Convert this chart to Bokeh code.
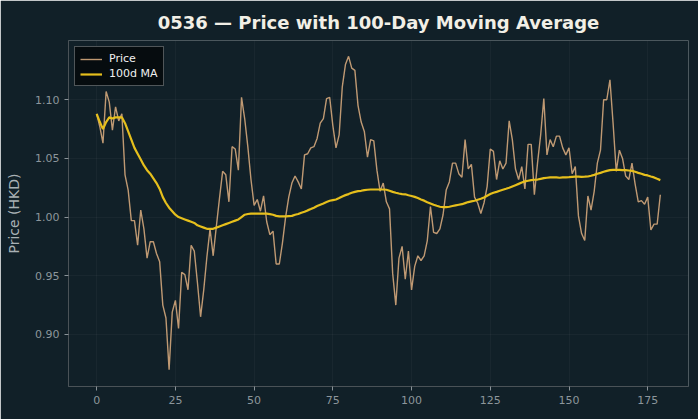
from bokeh.plotting import figure
from bokeh.models import FixedTicker, NumeralTickFormatter, Range1d, Legend, LegendItem
from bokeh.embed import file_html
from bokeh.resources import INLINE

day = list(range(180))
price = [
    1.088, 1.077, 1.063, 1.107, 1.098, 1.074, 1.094, 1.082, 1.088, 1.036,
    1.023, 0.997, 0.997, 0.976, 1.006, 0.990, 0.965, 0.979, 0.979, 0.969,
    0.962, 0.925, 0.914, 0.870, 0.919, 0.929, 0.905, 0.953, 0.951, 0.938,
    0.976, 0.971, 0.944, 0.915, 0.938, 0.966, 0.990, 0.967, 0.992, 1.016,
    1.039, 1.036, 1.013, 1.060, 1.058, 1.040, 1.102, 1.084, 1.060, 1.032,
    1.010, 1.015, 1.005, 1.018, 0.996, 0.985, 0.988, 0.960, 0.960, 0.978,
    1.000, 1.017, 1.029, 1.035, 1.030, 1.024, 1.053, 1.054, 1.059, 1.060,
    1.067, 1.080, 1.084, 1.101, 1.102, 1.078, 1.059, 1.070, 1.111, 1.130,
    1.137, 1.127, 1.125, 1.095, 1.081, 1.073, 1.051, 1.066, 1.065, 1.040,
    1.022, 1.029, 1.013, 1.007, 0.952, 0.925, 0.965, 0.975, 0.947, 0.971,
    0.938, 0.958, 0.967, 0.963, 0.967, 0.980, 1.009, 0.987, 0.986, 0.990,
    1.002, 1.023, 1.030, 1.046, 1.046, 1.037, 1.034, 1.066, 1.041, 1.045,
    1.017, 1.012, 1.003, 1.012, 1.026, 1.058, 1.056, 1.032, 1.048, 1.041,
    1.046, 1.082, 1.066, 1.041, 1.032, 1.043, 1.024, 1.062, 1.062, 1.019,
    1.046, 1.070, 1.101, 1.053, 1.066, 1.060, 1.069, 1.069, 1.059, 1.053,
    1.059, 1.037, 1.043, 1.001, 0.986, 0.980, 1.018, 1.006, 1.022, 1.046,
    1.057, 1.100, 1.100, 1.117, 1.080, 1.039, 1.057, 1.050, 1.035, 1.032,
    1.046, 1.028, 1.013, 1.014, 1.011, 1.017, 0.989, 0.994, 0.994, 1.019,
]
ma100 = [
    1.088, 1.081, 1.075, 1.081, 1.085, 1.084, 1.085, 1.085, 1.085, 1.080,
    1.073, 1.066, 1.059, 1.054, 1.049, 1.044, 1.040, 1.037, 1.033, 1.029,
    1.024, 1.017, 1.012, 1.008, 1.005, 1.002, 1.000, 0.999, 0.998, 0.997,
    0.996, 0.995, 0.993, 0.992, 0.991, 0.990, 0.990, 0.990, 0.991, 0.992,
    0.993, 0.994, 0.995, 0.996, 0.997, 0.998, 1.000, 1.002, 1.0026, 1.003,
    1.003, 1.003, 1.003, 1.003, 1.003, 1.0025, 1.002, 1.001, 1.0006, 1.0006,
    1.0006, 1.0008, 1.001, 1.002, 1.0026, 1.0037, 1.0045, 1.0057, 1.0068, 1.008,
    1.0094, 1.0105, 1.0116, 1.0128, 1.0139, 1.0145, 1.015, 1.0162, 1.0176, 1.0187,
    1.0196, 1.0207, 1.0215, 1.0221, 1.0224, 1.023, 1.0233, 1.0235, 1.0235, 1.0235,
    1.0235, 1.0235, 1.0233, 1.0224, 1.0215, 1.0207, 1.0201, 1.0196, 1.0194, 1.0186,
    1.0180, 1.0172, 1.0162, 1.0150, 1.0140, 1.0127, 1.0116, 1.0105, 1.0096, 1.0088,
    1.0085, 1.0085, 1.0088, 1.0094, 1.0100, 1.0105, 1.0110, 1.0119, 1.0128, 1.0134,
    1.0139, 1.0148, 1.0156, 1.0167, 1.0182, 1.0196, 1.0207, 1.0215, 1.0224, 1.0233,
    1.0241, 1.0250, 1.0261, 1.0272, 1.0283, 1.0295, 1.0304, 1.0310, 1.0315, 1.0318,
    1.0320, 1.0326, 1.0332, 1.0335, 1.0338, 1.0338, 1.0338, 1.0335, 1.0338, 1.0338,
    1.0340, 1.0343, 1.0345, 1.0344, 1.0343, 1.0344, 1.0346, 1.0352, 1.0360, 1.0369,
    1.0377, 1.0386, 1.0394, 1.0400, 1.0403, 1.0403, 1.0403, 1.0400, 1.0400, 1.0397,
    1.0394, 1.0386, 1.0377, 1.0369, 1.0360, 1.0355, 1.0346, 1.0338, 1.0326, 1.0315,
]
x_ticks = [0, 25, 50, 75, 100, 125, 150, 175]
y_ticks = [0.90, 0.95, 1.00, 1.05, 1.10]
title_text = "0536 \u2014 Price with 100-Day Moving Average"

BG = "#112028"
FONT = "DejaVu Sans"

p = figure(width=698, height=419, output_backend="svg", toolbar_location=None,
           x_range=Range1d(-8.95, 187.95), y_range=Range1d(0.8556, 1.1505),
           background_fill_color=BG, border_fill_color=BG, outline_line_color=None,
           min_border_left=68, min_border_right=10, min_border_top=40, min_border_bottom=33)

p.title.text = title_text
p.title.align = "center"
p.title.text_font = FONT
p.title.text_font_size = "18px"
p.title.text_font_style = "bold"
p.title.text_color = "#f2efe6"
p.title.offset = 0
p.title.standoff = 16

r_price = p.line(day, price, line_color="#c9a077", line_width=1.4, line_alpha=0.95)
r_ma = p.line(day, ma100, line_color="#e6bf1c", line_width=2.2)

for ax in (p.xaxis[0], p.yaxis[0]):
    ax.axis_line_color = "#4a5257"
    ax.major_tick_line_color = "#8a9398"
    ax.minor_tick_line_color = None
    ax.major_tick_in = 0
    ax.major_tick_out = 4
    ax.major_label_text_color = "#8c969b"
    ax.major_label_text_font = FONT
    ax.major_label_text_font_size = "11px"

p.xaxis.ticker = FixedTicker(ticks=x_ticks)
p.yaxis.ticker = FixedTicker(ticks=y_ticks)
p.yaxis.formatter = NumeralTickFormatter(format="0.00")
p.yaxis.axis_label = "Price (HKD)"
p.yaxis.axis_label_text_font = FONT
p.yaxis.axis_label_text_font_size = "14px"
p.yaxis.axis_label_text_font_style = "normal"
p.yaxis.axis_label_text_color = "#a9b1b5"
p.yaxis.axis_label_standoff = 10

p.xgrid.grid_line_color = "#ffffff"
p.xgrid.grid_line_alpha = 0.035
p.ygrid.grid_line_color = "#ffffff"
p.ygrid.grid_line_alpha = 0.035

legend = Legend(items=[LegendItem(label="Price", renderers=[r_price]),
                       LegendItem(label="100d MA", renderers=[r_ma])],
                location="top_left")
legend.background_fill_color = "#050a0c"
legend.background_fill_alpha = 0.9
legend.border_line_color = "#9aa0a3"
legend.border_line_width = 1
legend.label_text_color = "#f0f0f0"
legend.label_text_font = FONT
legend.label_text_font_size = "11px"
legend.glyph_width = 22
legend.glyph_height = 12
legend.label_height = 12
legend.label_standoff = 7
legend.spacing = 2
legend.padding = 5
legend.margin = 6
p.add_layout(legend)

open("out.html", "w").write(file_html(p, INLINE))
